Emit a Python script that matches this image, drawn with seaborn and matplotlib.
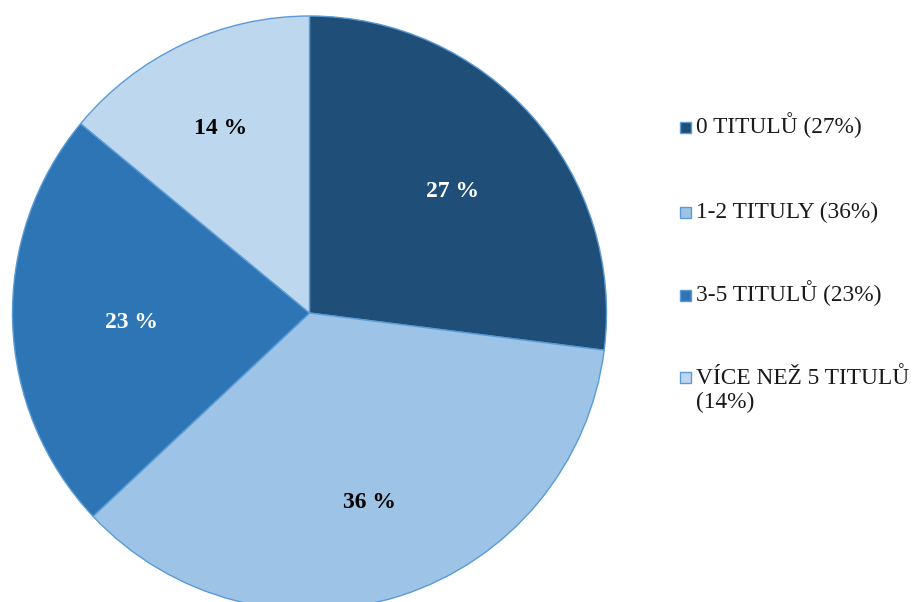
import matplotlib
matplotlib.use("Agg")
import matplotlib.pyplot as plt
from matplotlib.patches import Rectangle
import matplotlib.transforms as mtrans
import seaborn as sns

categories = ["0 TITULŮ (27%)", "1-2 TITULY (36%)", "3-5 TITULŮ (23%)", "VÍCE NEŽ 5 TITULŮ\n(14%)"]
values = [27, 36, 23, 14]
colors = ["#1F4E79", "#9DC3E6", "#2E75B6", "#BDD7EE"]
label_colors = ["white", "black", "white", "black"]
label_dist = [0.64, 0.655, 0.60, 0.70]

sns.set_theme(style="white")
plt.rcParams["font.family"] = ["Liberation Serif", "DejaVu Serif"]

W, H = 915, 602
fig = plt.figure(figsize=(W / 100, H / 100), dpi=100)
# pie circle: centre (309.5, 313), radius ~297 px (bottom cropped by figure edge)
ax = fig.add_axes([12.5 / W, (H - 610) / H, 594 / W, 594 / H])

wedges, texts, autotexts = ax.pie(
    values, colors=colors, startangle=90, counterclock=False,
    autopct=lambda p: f"{p:.0f} %", pctdistance=1.0,
    wedgeprops=dict(edgecolor="#5B9BD5", linewidth=1.0),
    textprops=dict(fontsize=17, fontweight="bold"),
)
shift = mtrans.ScaledTranslation(0, -4 / 100, fig.dpi_scale_trans)
for t, c, d in zip(autotexts, label_colors, label_dist):
    t.set_color(c)
    x, y = t.get_position()
    t.set_position((x * d, y * d))
    t.set_transform(ax.transData + shift)
ax.set_aspect("auto")
ax.set_xlim(-1.0, 1.0)
ax.set_ylim(-1.0, 1.0)
ax.axis("off")

# legend, drawn entry by entry
baselines = [133, 218, 301.5, 383.5]
line_gap = 25
for lab, col, b in zip(categories, colors, baselines):
    fig.add_artist(Rectangle((680 / W, 1 - (b - 0.5) / H), 11 / W, 11 / H,
                             transform=fig.transFigure, facecolor=col,
                             edgecolor="#5B9BD5", linewidth=1.0))
    for k, line in enumerate(lab.split("\n")):
        fig.text(696 / W, 1 - (b + k * line_gap) / H, line, va="baseline",
                 ha="left", fontsize=16.8, color="#1a1a1a")

fig.savefig("out.png", dpi=100)
